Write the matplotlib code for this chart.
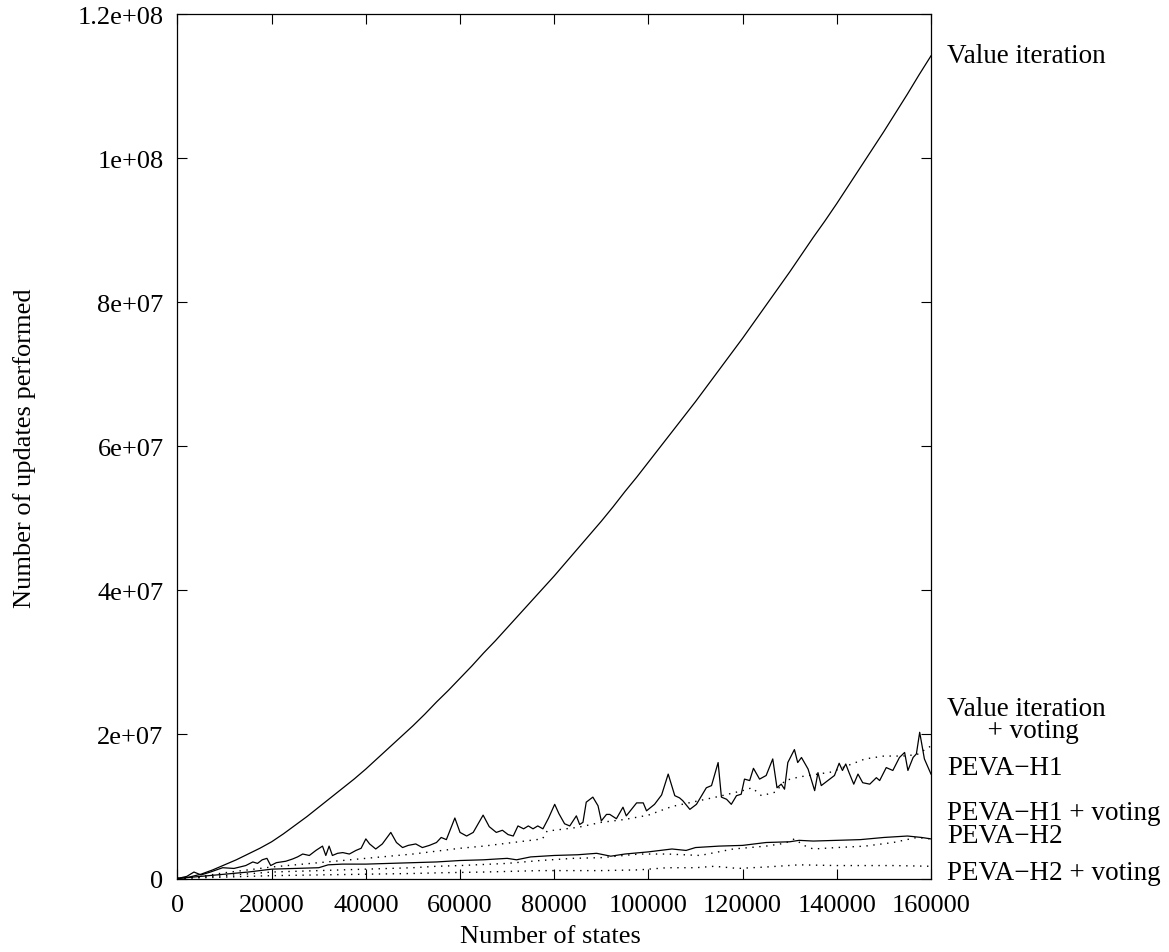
import numpy as np
import matplotlib
matplotlib.use("Agg")
import matplotlib.pyplot as plt
from matplotlib.transforms import blended_transform_factory

plt.rcParams['font.family'] = ['Liberation Serif', 'DejaVu Serif']

MILLION = 1e6

# --- data: number of states vs. number of updates (millions) ---
vi_states = [0, 2500, 5000, 7500, 10000, 12500, 15000, 17500, 20000, 22500,
             25000, 27500, 30000, 32500, 35000, 37500, 40000, 42500, 45000, 47500,
             50000, 52500, 55000, 57500, 60000, 62500, 65000, 67500, 70000, 72500,
             75000, 77500, 80000, 82500, 85000, 87500, 90000, 92500, 95000, 97500,
             100000, 102500, 105000, 107500, 110000, 112500, 115000, 117500,
             120000, 122500, 125000, 127500, 130000, 132500, 135000, 137500,
             140000, 142500, 145000, 147500, 150000, 152500, 155000, 157500, 160000]
vi_updates = [0, 0.2, 0.6, 1.2, 1.9, 2.6, 3.4, 4.2, 5.1, 6.2,
              7.4, 8.6, 9.9, 11.2, 12.5, 13.8, 15.2, 16.7, 18.2, 19.7,
              21.2, 22.8, 24.5, 26.1, 27.8, 29.5, 31.3, 33.0, 34.8, 36.6,
              38.4, 40.2, 42.0, 43.9, 45.8, 47.7, 49.6, 51.6, 53.7, 55.7,
              57.8, 59.9, 62.0, 64.1, 66.2, 68.4, 70.6, 72.8,
              75.0, 77.3, 79.6, 81.9, 84.2, 86.6, 89.0, 91.3,
              93.7, 96.2, 98.7, 101.2, 103.7, 106.3, 108.9, 111.6, 114.2]

vi_vote_states = [0, 5000, 10000, 15000, 20000, 25000, 30000, 35000, 40000, 45000,
                  50000, 55000, 60000, 65000, 70000, 75000, 77500, 78500, 80000,
                  85000, 90000, 95000, 100000, 105000, 110000, 115000, 120000,
                  122000, 124000, 127000, 129000, 132000, 136000, 139000, 142000,
                  146000, 150000, 154000, 157000, 160000]
vi_vote_updates = [0, 0.3, 0.8, 1.2, 1.6, 1.9, 2.2, 2.5, 2.8, 3.1,
                   3.4, 3.8, 4.2, 4.5, 4.9, 5.3, 5.5, 6.6, 6.7,
                   7.1, 7.8, 8.2, 8.8, 10.0, 10.7, 11.4, 12.2,
                   12.6, 11.5, 12.0, 13.6, 14.1, 14.5, 14.8, 15.6,
                   16.6, 17.0, 17.0, 17.2, 18.4]

h1_states = [0, 2000, 3500, 5000, 7000, 9600, 12000, 14500, 16000, 17000, 18000,
             19000, 19800, 21000, 23000, 24400, 25500, 26600, 28000, 29400, 30800,
             31500, 32200, 32900, 34000, 35100, 36500, 37900, 39000, 40000, 40800,
             42100, 43500, 45300, 46500, 47800, 49000, 50600, 52000, 53500, 55000,
             56000, 57100, 58900, 60000, 61400, 62800, 64900, 66200, 67700, 69000,
             70200, 71300, 72300, 73500, 74500, 75500, 76500, 77600, 78800, 80100,
             81000, 82200, 83300, 84700, 85400, 86100, 86800, 88200, 89300, 90000,
             91100, 91800, 93200, 94600, 95300, 97500, 98900, 99600, 101300, 102800,
             104200, 105600, 106600, 107300, 108800, 110200, 111300, 112300, 113400,
             114800, 115500, 116600, 117600, 118700, 119700, 120400, 121500, 122300,
             123600, 125000, 126400, 127300, 128200, 128900, 129600, 131000, 131700,
             132500, 133900, 135300, 136000, 136700, 138500, 139500, 140500, 141200,
             141900, 142600, 143600, 144500, 145500, 147000, 148400, 149100, 150500,
             151900, 153300, 154400, 155100, 156200, 156900, 157600, 158600, 160000]
h1_updates = [0, 0.3, 0.9, 0.5, 0.9, 1.5, 1.4, 1.8, 2.3, 2.1, 2.6,
              2.8, 1.8, 2.2, 2.4, 2.7, 3.0, 3.4, 3.2, 3.9, 4.5,
              3.2, 4.5, 3.2, 3.5, 3.6, 3.4, 3.9, 4.2, 5.5, 4.8,
              4.1, 4.8, 6.4, 5.0, 4.3, 4.6, 4.8, 4.3, 4.6, 5.0,
              5.7, 5.4, 8.4, 6.4, 5.9, 6.4, 8.8, 7.2, 6.4, 6.7,
              6.1, 5.9, 7.3, 6.9, 7.3, 6.9, 7.3, 6.9, 8.4, 10.3,
              9.0, 7.6, 7.3, 8.7, 7.5, 7.8, 10.6, 11.3, 10.1, 8.0,
              8.9, 8.9, 8.3, 9.9, 8.7, 10.5, 10.5, 9.4, 10.3, 11.6,
              14.5, 11.5, 11.2, 10.8, 9.6, 10.3, 11.5, 12.6, 12.9,
              16.1, 11.3, 11.0, 10.3, 11.5, 11.7, 13.8, 13.6, 15.3,
              13.8, 14.3, 16.6, 12.6, 13.1, 12.4, 16.1, 17.9, 16.1,
              16.8, 15.2, 12.2, 14.7, 12.9, 13.8, 14.3, 16.0, 15.0,
              15.9, 14.7, 13.1, 14.5, 13.3, 13.1, 14.0, 13.6, 15.4,
              15.0, 16.8, 17.5, 15.0, 16.8, 17.3, 20.3, 16.6, 14.5]

h1_vote_states = [0, 10000, 20000, 30000, 40000, 50000, 55000, 60000, 70000, 77000,
                  84000, 90000, 98000, 104000, 111000, 118000, 125000, 129000,
                  131000, 133000, 135000, 140000, 146000, 152000, 157000, 160000]
h1_vote_updates = [0, 0.4, 0.9, 1.1, 1.3, 1.5, 1.7, 1.8, 2.1, 2.5,
                   2.8, 2.9, 3.4, 3.4, 3.2, 4.1, 4.5, 4.9,
                   5.5, 4.6, 4.1, 4.3, 4.5, 5.0, 5.7, 5.5]

h2_states = [0, 5000, 10000, 15000, 20000, 25000, 30000, 32000, 35000, 40000,
             45000, 50000, 55000, 60000, 65000, 70000, 72000, 75000, 80000, 85000,
             89000, 92000, 95000, 100000, 105000, 108000, 110000, 115000, 120000,
             125000, 130000, 132000, 135000, 140000, 145000, 150000, 155000,
             158000, 160000]
h2_updates = [0, 0.3, 0.6, 0.9, 1.3, 1.4, 1.5, 1.9, 2.0, 2.0,
              2.1, 2.2, 2.3, 2.5, 2.6, 2.8, 2.6, 3.0, 3.2, 3.3,
              3.5, 3.1, 3.4, 3.7, 4.1, 3.9, 4.3, 4.5, 4.6,
              5.0, 5.1, 5.3, 5.2, 5.3, 5.4, 5.7, 5.9,
              5.7, 5.5]

h2_vote_states = [0, 10000, 20000, 30000, 40000, 50000, 56000, 65000, 77000, 90000,
                  98000, 104000, 110000, 114000, 119000, 125000, 132000, 140000,
                  146000, 152000, 160000]
h2_vote_updates = [0, 0.2, 0.4, 0.5, 0.6, 0.7, 0.8, 0.9, 1.1, 1.1,
                   1.2, 1.5, 1.5, 1.7, 1.4, 1.6, 1.9, 1.8,
                   1.8, 1.8, 1.7]

x_ticks = [0, 20000, 40000, 60000, 80000, 100000, 120000, 140000, 160000]
x_tick_labels = ['0', '20000', '40000', '60000', '80000', '100000', '120000',
                 '140000', '160000']
y_ticks = [0, 2e7, 4e7, 6e7, 8e7, 1e8, 1.2e8]
y_tick_labels = ['0', '2e+07', '4e+07', '6e+07', '8e+07', '1e+08', '1.2e+08']

series_names = ['Value iteration', 'Value iteration\n      + voting', 'PEVA\u2212H1',
                'PEVA\u2212H1 + voting', 'PEVA\u2212H2', 'PEVA\u2212H2 + voting']

# --- figure ---
fig = plt.figure(figsize=(11.69, 9.53), dpi=100)
ax = fig.add_axes([0.1518, 0.0771, 0.6446, 0.9071])

solid = dict(color='black', lw=0.9, linestyle='-')
dotted = dict(color='black', lw=1.0, linestyle=(0, (1, 4)))

def scaled(v):
    return np.asarray(v) * MILLION

ax.plot(vi_states, scaled(vi_updates), **solid)
ax.plot(vi_vote_states, scaled(vi_vote_updates), **dotted)
ax.plot(h1_states, scaled(h1_updates), **solid)
ax.plot(h1_vote_states, scaled(h1_vote_updates), **dotted)
ax.plot(h2_states, scaled(h2_updates), **solid)
ax.plot(h2_vote_states, scaled(h2_vote_updates), **dotted)

ax.set_xlim(0, 160000)
ax.set_ylim(0, 1.2e8)
ax.set_xticks(x_ticks)
ax.set_xticklabels(x_tick_labels)
ax.set_yticks(y_ticks)
ax.set_yticklabels(y_tick_labels)
ax.tick_params(direction='in', length=7, width=0.8, top=True, right=True,
               labelsize=19, color='black')
ax.tick_params(axis='x', pad=11)
ax.tick_params(axis='y', pad=10)
for sp in ax.spines.values():
    sp.set_linewidth(0.9)
    sp.set_color('black')

fig.text(0.471, 0.0105, 'Number of states', ha='center', va='baseline', fontsize=19)
fig.text(0.021, 0.530, 'Number of updates performed', ha='center', va='center',
         rotation=90, fontsize=19)

# --- curve labels on the right (baseline of the last line at the given y) ---
tr = blended_transform_factory(ax.transAxes, ax.transData)
lab_x = 1.021
lab_fs = 19.5
ax.text(lab_x, 113.3e6, series_names[0], transform=tr, fontsize=lab_fs,
        va='baseline', ha='left')
ax.text(lab_x, 19.65e6, series_names[1], transform=tr, fontsize=lab_fs,
        va='baseline', ha='left', linespacing=0.86)
ax.text(lab_x, 14.56e6, series_names[2], transform=tr, fontsize=lab_fs,
        va='baseline', ha='left')
ax.text(lab_x, 8.32e6, series_names[3], transform=tr, fontsize=lab_fs,
        va='baseline', ha='left')
ax.text(lab_x, 5.09e6, series_names[4], transform=tr, fontsize=lab_fs,
        va='baseline', ha='left')
ax.text(lab_x, 0.0, series_names[5], transform=tr, fontsize=lab_fs,
        va='baseline', ha='left')

fig.savefig('out.png', dpi=100)
